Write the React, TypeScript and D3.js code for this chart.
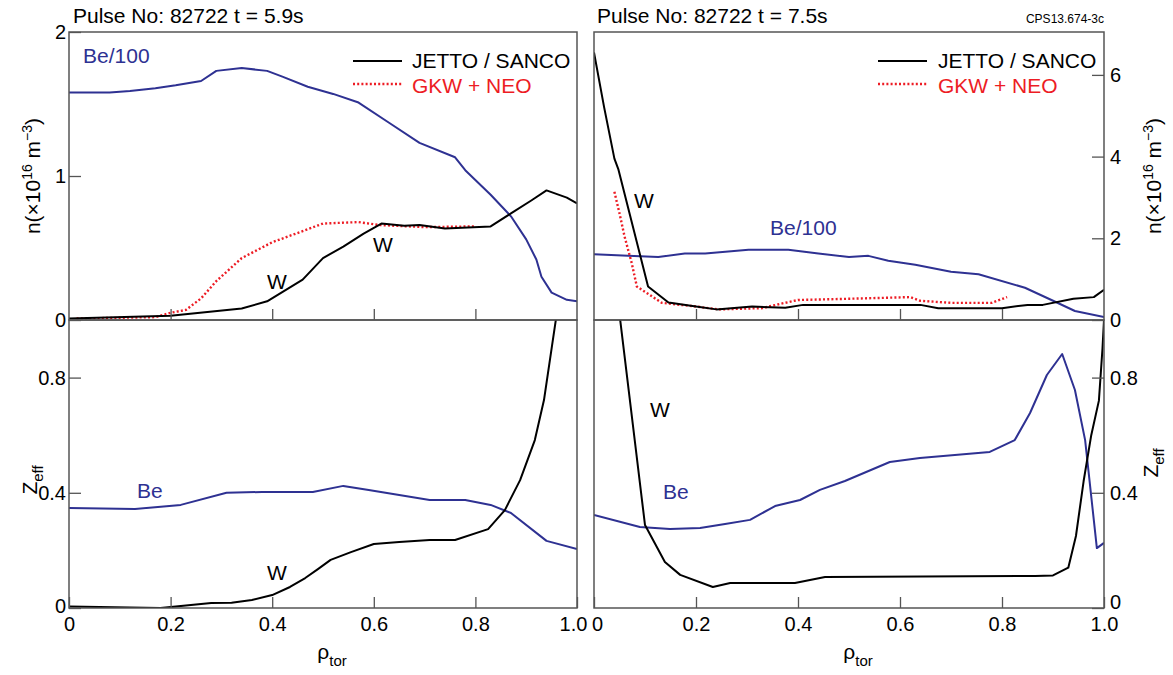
import * as d3 from "d3"
import { useEffect, useRef } from "react"

// ---- data ----
// top left: t = 5.9s, n (x10^16 m^-3)
const tlBeRho = [0, 0.08, 0.12, 0.17, 0.21, 0.26, 0.29, 0.34, 0.39, 0.42, 0.47, 0.52, 0.57, 0.63, 0.69, 0.76, 0.78, 0.83, 0.87, 0.9, 0.92, 0.93, 0.95, 0.98, 1.0]
const tlBeN = [1.58, 1.58, 1.59, 1.61, 1.63, 1.66, 1.73, 1.75, 1.73, 1.69, 1.62, 1.57, 1.51, 1.37, 1.23, 1.13, 1.04, 0.87, 0.72, 0.56, 0.42, 0.30, 0.19, 0.14, 0.13]
const tlJettoRho = [0, 0.2, 0.34, 0.39, 0.46, 0.5, 0.54, 0.58, 0.615, 0.66, 0.69, 0.74, 0.83, 0.87, 0.91, 0.94, 0.98, 1.0]
const tlJettoN = [0.01, 0.03, 0.08, 0.13, 0.28, 0.43, 0.51, 0.6, 0.67, 0.655, 0.66, 0.635, 0.65, 0.74, 0.83, 0.9, 0.85, 0.81]
const tlGkwRho = [0.015, 0.17, 0.2, 0.23, 0.26, 0.29, 0.34, 0.4, 0.47, 0.5, 0.57, 0.61, 0.7, 0.8]
const tlGkwN = [0.01, 0.02, 0.05, 0.07, 0.15, 0.27, 0.43, 0.54, 0.63, 0.67, 0.68, 0.66, 0.645, 0.65]

// top right: t = 7.5s
const trBeRho = [0, 0.067, 0.126, 0.178, 0.218, 0.303, 0.381, 0.44, 0.5, 0.538, 0.577, 0.63, 0.7, 0.754, 0.845, 0.897, 0.943, 1.0]
const trBeN = [1.61, 1.57, 1.54, 1.63, 1.63, 1.72, 1.72, 1.63, 1.54, 1.57, 1.45, 1.35, 1.18, 1.12, 0.79, 0.49, 0.22, 0.07]
const trJettoRho = [0, 0.02, 0.04, 0.048, 0.106, 0.146, 0.2, 0.24, 0.31, 0.375, 0.41, 0.64, 0.675, 0.8, 0.85, 0.88, 0.94, 0.98, 1.0]
const trJettoN = [6.55, 5.2, 3.95, 3.68, 0.82, 0.43, 0.33, 0.26, 0.33, 0.30, 0.37, 0.37, 0.29, 0.29, 0.37, 0.37, 0.52, 0.56, 0.74]
const trGkwRho = [0.04, 0.05, 0.06, 0.074, 0.084, 0.133, 0.2, 0.244, 0.33, 0.36, 0.4, 0.5, 0.62, 0.64, 0.7, 0.78, 0.81]
const trGkwN = [3.14, 2.61, 2.04, 1.39, 0.82, 0.42, 0.33, 0.26, 0.29, 0.38, 0.49, 0.52, 0.56, 0.47, 0.42, 0.42, 0.56]

// bottom left: Zeff contributions, t = 5.9s
const blBeRho = [0, 0.13, 0.22, 0.31, 0.38, 0.48, 0.54, 0.59, 0.71, 0.78, 0.83, 0.87, 0.94, 1.0]
const blBeZ = [0.347, 0.344, 0.358, 0.40, 0.403, 0.403, 0.424, 0.41, 0.375, 0.375, 0.358, 0.33, 0.233, 0.205]
const blWRho = [0, 0.18, 0.24, 0.28, 0.32, 0.36, 0.4, 0.435, 0.465, 0.49, 0.515, 0.555, 0.6, 0.65, 0.71, 0.76, 0.825, 0.858, 0.888, 0.917, 0.935, 0.951, 0.96]
const blWZ = [0.005, 0, 0.01, 0.017, 0.018, 0.028, 0.045, 0.073, 0.104, 0.135, 0.167, 0.194, 0.222, 0.229, 0.236, 0.236, 0.274, 0.34, 0.444, 0.583, 0.722, 0.913, 1.02]

// bottom right: t = 7.5s
const brBeRho = [0, 0.09, 0.149, 0.208, 0.257, 0.306, 0.355, 0.404, 0.443, 0.492, 0.58, 0.639, 0.776, 0.825, 0.855, 0.888, 0.918, 0.943, 0.963, 0.986, 1.0]
const brBeZ = [0.323, 0.281, 0.274, 0.278, 0.292, 0.306, 0.354, 0.375, 0.41, 0.441, 0.507, 0.521, 0.542, 0.583, 0.677, 0.809, 0.882, 0.757, 0.583, 0.208, 0.226]
const brWRho = [0.05, 0.1, 0.139, 0.169, 0.233, 0.267, 0.394, 0.453, 0.865, 0.9, 0.93, 0.945, 0.96, 0.975, 0.99, 0.997, 1.0]
const brWZ = [1.02, 0.288, 0.16, 0.115, 0.073, 0.087, 0.087, 0.108, 0.111, 0.113, 0.14, 0.25, 0.44, 0.6, 0.72, 0.9, 1.0]

const xTicks = [0, 0.2, 0.4, 0.6, 0.8, 1.0]
const nTicksLeft = [0, 1, 2]
const nTicksRight = [0, 2, 4, 6]
const zTicks = [0, 0.4, 0.8]

const FONT = "'Liberation Sans', Arial, Helvetica, sans-serif"
const BLUE = "#2e3192"
const RED = "#ed1c24"
const FRAME = "#555"

export default function App() {

	const svgRef = useRef()

	useEffect(() => {
		const svg = d3.select(svgRef.current)
		svg.selectAll('*').remove()
		svg.style('font-family', FONT)

		const panels = [
			{ id: 'tl', left: 69, right: 577, top: 32, bottom: 320, yDomain: [0, 2], yTicks: nTicksLeft, side: 'left', xLabels: false,
				series: [
					{ rho: tlBeRho, v: tlBeN, color: BLUE },
					{ rho: tlGkwRho, v: tlGkwN, color: RED, dotted: true },
					{ rho: tlJettoRho, v: tlJettoN, color: 'black' },
				] },
			{ id: 'tr', left: 594, right: 1104, top: 32, bottom: 320, yDomain: [0, 7.05], yTicks: nTicksRight, side: 'right', xLabels: false,
				series: [
					{ rho: trBeRho, v: trBeN, color: BLUE },
					{ rho: trGkwRho, v: trGkwN, color: RED, dotted: true },
					{ rho: trJettoRho, v: trJettoN, color: 'black' },
				] },
			{ id: 'bl', left: 69, right: 577, top: 320, bottom: 608, yDomain: [0, 1], yTicks: zTicks, side: 'left', xLabels: true,
				series: [
					{ rho: blBeRho, v: blBeZ, color: BLUE },
					{ rho: blWRho, v: blWZ, color: 'black' },
				] },
			{ id: 'br', left: 594, right: 1104, top: 320, bottom: 608, yDomain: [0, 1], yTicks: zTicks, side: 'right', xLabels: true,
				series: [
					{ rho: brBeRho, v: brBeZ, color: BLUE },
					{ rho: brWRho, v: brWZ, color: 'black' },
				] },
		]

		const defs = svg.append('defs')

		panels.forEach(p => {
			const x = d3.scaleLinear().domain([0, 1]).range([p.left, p.right])
			const y = d3.scaleLinear().domain(p.yDomain).range([p.bottom, p.top])

			defs.append('clipPath').attr('id', 'clip-' + p.id)
				.append('rect')
				.attr('x', p.left).attr('y', p.top)
				.attr('width', p.right - p.left).attr('height', p.bottom - p.top)

			// curves
			const line = d3.line().x(d => x(d[0])).y(d => y(d[1]))
			const g = svg.append('g').attr('clip-path', `url(#clip-${p.id})`)
			p.series.forEach(s => {
				g.append('path')
					.datum(d3.zip(s.rho, s.v))
					.attr('d', line)
					.attr('fill', 'none')
					.attr('stroke', s.color)
					.attr('stroke-width', s.dotted ? 2.4 : 2)
					.attr('stroke-dasharray', s.dotted ? '2,2.2' : null)
					.attr('stroke-linejoin', 'round')
			})

			// x ticks (inward, pointing up)
			const xAxis = d3.axisBottom(x)
				.tickValues(p.xLabels ? xTicks : xTicks.slice(1, -1))
				.tickSize(-11)
				.tickPadding(9)
				.tickFormat(p.xLabels ? (d => d === 0 ? '0' : d3.format('.1f')(d)) : '')
			const gx = svg.append('g')
				.attr('transform', `translate(0, ${p.bottom})`)
				.call(xAxis)
			gx.select('.domain').remove()
			gx.selectAll('line').attr('stroke', FRAME).attr('stroke-width', 1.3)
			gx.selectAll('text').attr('fill', 'black').attr('font-size', 20).attr('font-family', FONT)
			// the "1.0" of the left panel and the "0" of the right one sit side by side
			if (p.side === 'left') gx.selectAll('text').filter(d => d === 1).attr('dx', -4)
			else gx.selectAll('text').filter(d => d === 0).attr('dx', 3)

			// y ticks (inward)
			const fmt = d => d === 0 ? '0' : (Number.isInteger(d) ? String(d) : d3.format('.1f')(d))
			const yAxis = (p.side === 'left' ? d3.axisLeft(y) : d3.axisRight(y))
				.tickValues(p.yTicks)
				.tickSize(-12)
				.tickPadding(p.side === 'left' ? 3 : 6)
				.tickFormat(fmt)
			const gy = svg.append('g')
				.attr('transform', `translate(${p.side === 'left' ? p.left : p.right}, 0)`)
				.call(yAxis)
			gy.select('.domain').remove()
			gy.selectAll('line').attr('stroke', FRAME).attr('stroke-width', 1.3)
			gy.selectAll('text').attr('fill', 'black').attr('font-size', 20).attr('font-family', FONT)
			if (p.id === 'br') gy.selectAll('text').filter(d => d === 0).attr('y', -6)
			if (p.id === 'bl') gy.selectAll('text').filter(d => d === 0).attr('y', -2)

			// frame
			svg.append('rect')
				.attr('x', p.left).attr('y', p.top)
				.attr('width', p.right - p.left).attr('height', p.bottom - p.top)
				.attr('fill', 'none')
				.attr('stroke', FRAME)
				.attr('stroke-width', 1.5)
		})

		const label = (txt, x, y, opts = {}) => svg.append('text')
			.text(txt)
			.attr('x', x).attr('y', y)
			.attr('font-size', opts.size || 21)
			.attr('fill', opts.color || 'black')
			.attr('text-anchor', opts.anchor || 'start')

		// titles
		label('Pulse No: 82722 t = 5.9s', 73, 23)
		label('Pulse No: 82722 t = 7.5s', 597, 23)
		label('CPS13.674-3c', 1104, 23, { size: 12, anchor: 'end' })

		// legends
		;[{ x0: 353, tx: 412 }, { x0: 878, tx: 938 }].forEach(l => {
			svg.append('line').attr('x1', l.x0).attr('x2', l.x0 + 49).attr('y1', 61).attr('y2', 61)
				.attr('stroke', 'black').attr('stroke-width', 2)
			svg.append('line').attr('x1', l.x0).attr('x2', l.x0 + 49).attr('y1', 84).attr('y2', 84)
				.attr('stroke', RED).attr('stroke-width', 2.4).attr('stroke-dasharray', '2,2.2')
			label('JETTO / SANCO', l.tx, 68)
			label('GKW + NEO', l.tx, 93, { color: RED })
		})

		// curve annotations
		label('Be/100', 83, 63, { color: BLUE })
		label('W', 277, 289, { anchor: 'middle' })
		label('W', 383, 252, { anchor: 'middle' })
		label('W', 644, 208, { anchor: 'middle' })
		label('Be/100', 770, 235, { color: BLUE })
		label('Be', 137, 498, { color: BLUE })
		label('W', 277, 580, { anchor: 'middle' })
		label('W', 660, 417, { anchor: 'middle' })
		label('Be', 663, 499, { color: BLUE })

		// x axis titles: rho_tor
		;[332, 858].forEach(cx => {
			const t = svg.append('text').attr('x', cx).attr('y', 659).attr('text-anchor', 'middle').attr('font-size', 21)
			t.append('tspan').text('ρ')
			t.append('tspan').text('tor').attr('font-size', 15).attr('dy', 7)
		})

		// y axis titles (rotated)
		const nLabel = (bx, cy) => {
			const t = svg.append('text')
				.attr('transform', `translate(${bx}, ${cy}) rotate(-90)`)
				.attr('text-anchor', 'middle').attr('font-size', 21)
			t.append('tspan').text('n(×10')
			t.append('tspan').text('16').attr('font-size', 14).attr('dy', -8)
			t.append('tspan').text(' m').attr('dy', 8)
			t.append('tspan').text('−3').attr('font-size', 14).attr('dy', -8)
			t.append('tspan').text(')').attr('dy', 8)
		}
		nLabel(40, 176)
		nLabel(1161, 176)

		const zLabel = (bx, cy) => {
			const t = svg.append('text')
				.attr('transform', `translate(${bx}, ${cy}) rotate(-90)`)
				.attr('text-anchor', 'middle').attr('font-size', 21)
			t.append('tspan').text('Z')
			t.append('tspan').text('eff').attr('font-size', 15).attr('dy', 6)
		}
		zLabel(37, 480)
		zLabel(1158, 463)

	}, [])

	return (
		<svg ref={svgRef} width={1173} height={675}
			style={{ position: 'absolute', left: 0, top: 0, background: 'white' }} />
	)
}
